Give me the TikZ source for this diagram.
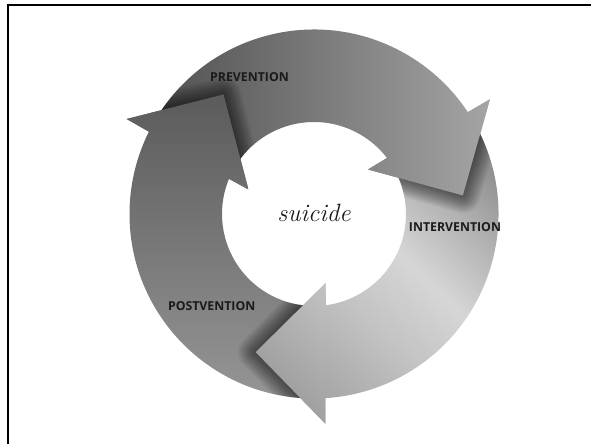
\documentclass[tikz,border=0pt]{standalone}
\usepackage{fontspec}
\newfontfamily\lblfont{Open Sans}
\begin{document}
\definecolor{aOneL}{HTML}{505050}
\definecolor{aOneM}{HTML}{434343}
\definecolor{aOneR}{HTML}{A8A8A8}
\definecolor{aThrT}{HTML}{5A5A5A}
\definecolor{aThrB}{HTML}{9C9C9C}
\definecolor{intEnd}{HTML}{A0A0A0}
\definecolor{intMid}{HTML}{C2C2C2}
\definecolor{intLight}{HTML}{D6D6D6}
\definecolor{intUp}{HTML}{B2B2B2}
\definecolor{intStart}{HTML}{8E8E8E}
\definecolor{txt}{HTML}{1A1A1A}
\pgfdeclareverticalshading{shInt}{100bp}{color(0bp)=(intEnd); color(30bp)=(intEnd); color(45bp)=(intMid); color(56bp)=(intLight); color(66bp)=(intUp); color(75bp)=(intStart); color(100bp)=(intStart)}
\begin{tikzpicture}[x=1pt,y=1pt,
  shaft/.style={insert path={({149+#1}:184.5) arc[start angle={149+#1}, end angle={33.5+#1}, radius=184.5] -- ({37.5+#1}:92) arc[start angle={37.5+#1}, end angle={149+#1}, radius=92] -- cycle}},
  full/.style={insert path={({149+#1}:184.5) arc[start angle={149+#1}, end angle={33.5+#1}, radius=184.5] -- ({33.1+#1}:210) -- ({7.1+#1}:150) -- ({39.5+#1}:70) -- ({37.5+#1}:92) arc[start angle={37.5+#1}, end angle={149+#1}, radius=92] -- cycle}},
  head/.style={insert path={({33.5+#1}:184.5) -- ({33.1+#1}:210) -- ({7.1+#1}:150) -- ({39.5+#1}:70) -- ({37.5+#1}:92) -- cycle}},
  shA/.style={path picture={\shade[left color=aOneL, middle color=aOneM, right color=aOneR] (-165,-30) rectangle (190,200);}},
  shB/.style={path picture={\shade[shading=shInt, shading angle=-44] (-94,-251) rectangle (236,79);}},
  shC/.style={path picture={\shade[top color=aThrT, bottom color=aThrB] (-215,-220) rectangle (20,125);}},
  halo/.style={draw=black, opacity=0.045, line join=round},
  lbl/.style={font=\lblfont\bfseries\fontsize{12.3}{14}\selectfont, text=txt, inner sep=0pt},
  frameline/.style={line width=2.3pt, black}
]
\useasboundingbox (-314,214) rectangle (277,-230);
\draw[frameline] (-306.2,-230) -- (-306.2,208.8) -- (277,208.8);
% full arrows
\path[shA, full=0];
\path[shB, full=240];
\path[shC, full=120];
% soft shadows of the heads onto the following arrow
\begin{scope}
  \clip[shaft=240];
  \foreach \w in {2,4.5,7,9.5,12,14.5,17,19.5,22,24.5,27,29.5,32,35} \path[halo, line width=\w pt, head=0];
\end{scope}
\begin{scope}
  \clip[shaft=120];
  \foreach \w in {2,4.5,7,9.5,12,14.5,17,19.5,22,24.5,27,29.5,32,35} \path[halo, line width=\w pt, head=240];
\end{scope}
\begin{scope}
  \clip[shaft=0];
  \foreach \w in {2,4.5,7,9.5,12,14.5,17,19.5,22,24.5,27,29.5,32,35} \path[halo, line width=\w pt, head=120];
\end{scope}
% heads on top
\path[shA, head=0];
\path[shB, head=240];
\path[shC, head=120];
% labels
\node[lbl] (prev) at (-64.5,137.3) {PREVENTION};
\node[lbl] (inter) at (141,-12.7) {INTERVENTION};
\node[lbl] (post) at (-102.3,-91.8) {POSTVENTION};
\node[font=\itshape\fontsize{25}{28}\selectfont, text=txt, inner sep=0pt, anchor=base] (sui) at (0,-8) {suicide};
\end{tikzpicture}
\end{document}
